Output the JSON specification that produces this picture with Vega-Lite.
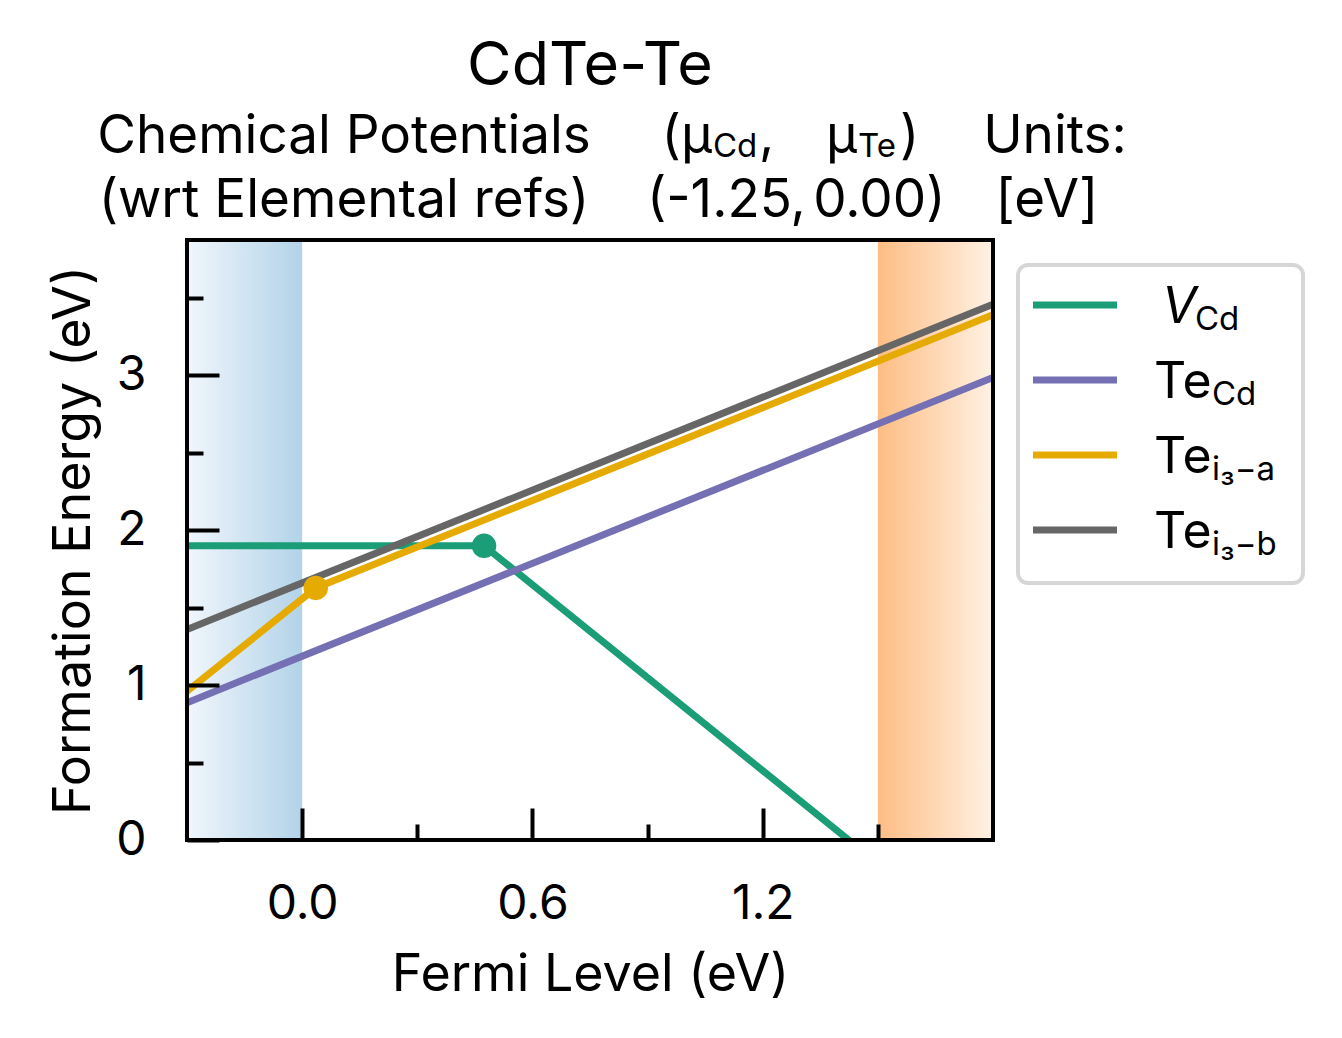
{
  "$schema": "https://vega.github.io/schema/vega-lite/v6.json",
  "width": 806,
  "height": 600,
  "autosize": {"type": "none"},
  "padding": {"left": 187, "top": 240, "right": 349, "bottom": 198},
  "background": "white",
  "config": {
    "font": "Inter",
    "view": {"stroke": null},
    "text": {"font": "Inter", "color": "black"}
  },
  "datasets": {
    "lines": [
      {"defect": "V_Cd", "fermi": -0.3, "energy": 1.9},
      {"defect": "V_Cd", "fermi": 0.474, "energy": 1.9},
      {"defect": "V_Cd", "fermi": 1.8, "energy": -0.752},
      {"defect": "Te_Cd", "fermi": -0.3, "energy": 0.887},
      {"defect": "Te_Cd", "fermi": 1.8, "energy": 2.987},
      {"defect": "Te_i3-a", "fermi": -0.3, "energy": 0.96},
      {"defect": "Te_i3-a", "fermi": 0.0355, "energy": 1.628},
      {"defect": "Te_i3-a", "fermi": 1.8, "energy": 3.392},
      {"defect": "Te_i3-b", "fermi": -0.3, "energy": 1.36},
      {"defect": "Te_i3-b", "fermi": 1.8, "energy": 3.46}
    ],
    "levels": [
      {"defect": "V_Cd", "fermi": 0.474, "energy": 1.9},
      {"defect": "Te_i3-a", "fermi": 0.0355, "energy": 1.628}
    ]
  },
  "data": {"values": [{}]},
  "layer": [
    {
      "mark": {"type": "rect", "fill": {"gradient": "linear", "x1": 0, "x2": 1, "y1": 0, "y2": 0, "stops": [{"offset": 0, "color": "#f1f6fc"}, {"offset": 1, "color": "#b2d3e8"}]}},
      "encoding": {
        "x": {"datum": -0.3, "type": "quantitative"},
        "x2": {"datum": 0},
        "y": {"datum": 0, "type": "quantitative"},
        "y2": {"datum": 3.875}
      }
    },
    {
      "mark": {"type": "rect", "fill": {"gradient": "linear", "x1": 0, "x2": 1, "y1": 0, "y2": 0, "stops": [{"offset": 0, "color": "#fdbd84"}, {"offset": 1, "color": "#fff2e4"}]}},
      "encoding": {
        "x": {"datum": 1.5, "type": "quantitative"},
        "x2": {"datum": 1.8},
        "y": {"datum": 0, "type": "quantitative"},
        "y2": {"datum": 3.875}
      }
    },
    {
      "data": {"name": "lines"},
      "mark": {"type": "line", "strokeWidth": 7, "clip": true},
      "encoding": {
        "x": {
          "field": "fermi", "type": "quantitative",
          "scale": {"domain": [-0.3, 1.8], "nice": false, "zero": false},
          "axis": {
            "title": "Fermi Level (eV)",
            "values": [0, 0.3, 0.6, 0.9, 1.2, 1.5],
            "labelExpr": "round(datum.value * 10) % 6 == 0 ? format(datum.value, '.1f') : ''",
            "tickSize": {"condition": {"test": "round(datum.value * 10) % 6 == 0", "value": -32}, "value": -16},
            "tickWidth": 4, "tickColor": "black",
            "domain": false, "grid": false,
            "labelFontSize": 48, "labelColor": "black", "labelPadding": 72,
            "labelOverlap": false, "labelFlush": false,
            "titleFontSize": 52, "titleFontWeight": "normal", "titleColor": "black",
            "titleY": 150, "titleBaseline": "alphabetic",
            "zindex": 1
          }
        },
        "y": {
          "field": "energy", "type": "quantitative",
          "scale": {"domain": [0, 3.875], "nice": false, "zero": false},
          "axis": {
            "title": "Formation Energy (eV)",
            "values": [0, 0.5, 1, 1.5, 2, 2.5, 3, 3.5],
            "labelExpr": "datum.value == round(datum.value) ? format(datum.value, 'd') : ''",
            "tickSize": {"condition": {"test": "datum.value == round(datum.value)", "value": -32}, "value": -16},
            "tickWidth": 4, "tickColor": "black",
            "domain": false, "grid": false,
            "labelFontSize": 48, "labelColor": "black", "labelPadding": 73,
            "labelOverlap": false, "labelFlush": false,
            "titleFontSize": 52, "titleFontWeight": "normal", "titleColor": "black",
            "titleX": -98, "titleY": 300, "titleBaseline": "alphabetic",
            "zindex": 1
          }
        },
        "color": {
          "field": "defect", "type": "nominal",
          "scale": {"domain": ["V_Cd", "Te_Cd", "Te_i3-a", "Te_i3-b"], "range": ["#1b9e77", "#7570b3", "#e6ab02", "#666666"]},
          "legend": null
        }
      }
    },
    {
      "data": {"name": "levels"},
      "mark": {"type": "circle", "size": 600, "opacity": 1},
      "encoding": {
        "x": {"field": "fermi", "type": "quantitative"},
        "y": {"field": "energy", "type": "quantitative"},
        "color": {"field": "defect", "type": "nominal"}
      }
    },
    {
      "mark": {"type": "rect", "filled": false, "stroke": "black", "strokeWidth": 4},
      "encoding": {
        "x": {"datum": -0.3, "type": "quantitative"},
        "x2": {"datum": 1.8},
        "y": {"datum": 0, "type": "quantitative"},
        "y2": {"datum": 3.875}
      }
    },
    {
      "mark": {"type": "rect", "fill": "white", "stroke": "#d6d6d6", "strokeWidth": 4, "cornerRadius": 10},
      "encoding": {
        "x": {"datum": 1.8651, "type": "quantitative"},
        "x2": {"datum": 2.6077},
        "y": {"datum": 3.7135, "type": "quantitative"},
        "y2": {"datum": 1.6598}
      }
    },
    {"mark": {"type": "rule", "strokeWidth": 7, "color": "#1b9e77"}, "encoding": {"x": {"datum": 1.9042, "type": "quantitative"}, "x2": {"datum": 2.1231}, "y": {"datum": 3.4552, "type": "quantitative"}}},
    {"mark": {"type": "rule", "strokeWidth": 7, "color": "#7570b3"}, "encoding": {"x": {"datum": 1.9042, "type": "quantitative"}, "x2": {"datum": 2.1231}, "y": {"datum": 2.9708, "type": "quantitative"}}},
    {"mark": {"type": "rule", "strokeWidth": 7, "color": "#e6ab02"}, "encoding": {"x": {"datum": 1.9042, "type": "quantitative"}, "x2": {"datum": 2.1231}, "y": {"datum": 2.4864, "type": "quantitative"}}},
    {"mark": {"type": "rule", "strokeWidth": 7, "color": "#666666"}, "encoding": {"x": {"datum": 1.9042, "type": "quantitative"}, "x2": {"datum": 2.1231}, "y": {"datum": 2.0021, "type": "quantitative"}}},
    {"mark": {"type": "text", "text": "V", "fontSize": 50, "fontStyle": "italic", "align": "left", "baseline": "alphabetic"}, "encoding": {"x": {"datum": 2.2403, "type": "quantitative"}, "y": {"datum": 3.3389, "type": "quantitative"}}},
    {"mark": {"type": "text", "text": "Cd", "fontSize": 33, "align": "left", "baseline": "alphabetic"}, "encoding": {"x": {"datum": 2.3263, "type": "quantitative"}, "y": {"datum": 3.2937, "type": "quantitative"}}},
    {"mark": {"type": "text", "text": "Te", "fontSize": 50, "align": "left", "baseline": "alphabetic"}, "encoding": {"x": {"datum": 2.2195, "type": "quantitative"}, "y": {"datum": 2.8546, "type": "quantitative"}}},
    {"mark": {"type": "text", "text": "Cd", "fontSize": 33, "align": "left", "baseline": "alphabetic"}, "encoding": {"x": {"datum": 2.3706, "type": "quantitative"}, "y": {"datum": 2.8093, "type": "quantitative"}}},
    {"mark": {"type": "text", "text": "Te", "fontSize": 50, "align": "left", "baseline": "alphabetic"}, "encoding": {"x": {"datum": 2.2195, "type": "quantitative"}, "y": {"datum": 2.3702, "type": "quantitative"}}},
    {"mark": {"type": "text", "text": "i₃−a", "fontSize": 33, "align": "left", "baseline": "alphabetic"}, "encoding": {"x": {"datum": 2.3706, "type": "quantitative"}, "y": {"datum": 2.325, "type": "quantitative"}}},
    {"mark": {"type": "text", "text": "Te", "fontSize": 50, "align": "left", "baseline": "alphabetic"}, "encoding": {"x": {"datum": 2.2195, "type": "quantitative"}, "y": {"datum": 1.8858, "type": "quantitative"}}},
    {"mark": {"type": "text", "text": "i₃−b", "fontSize": 33, "align": "left", "baseline": "alphabetic"}, "encoding": {"x": {"datum": 2.3706, "type": "quantitative"}, "y": {"datum": 1.8406, "type": "quantitative"}}},
    {"mark": {"type": "text", "text": "CdTe-Te", "fontSize": 61, "align": "center", "baseline": "alphabetic"}, "encoding": {"x": {"datum": 0.75, "type": "quantitative"}, "y": {"datum": 4.876, "type": "quantitative"}}},
    {"mark": {"type": "text", "text": "Chemical Potentials", "fontSize": 53, "align": "center", "baseline": "alphabetic"}, "encoding": {"x": {"datum": 0.1091, "type": "quantitative"}, "y": {"datum": 4.4368, "type": "quantitative"}}},
    {"mark": {"type": "text", "text": "(wrt Elemental refs)", "fontSize": 53, "align": "center", "baseline": "alphabetic"}, "encoding": {"x": {"datum": 0.1091, "type": "quantitative"}, "y": {"datum": 4.0235, "type": "quantitative"}}},
    {"mark": {"type": "text", "text": "(μ", "fontSize": 53, "align": "right", "baseline": "alphabetic"}, "encoding": {"x": {"datum": 1.0679, "type": "quantitative"}, "y": {"datum": 4.4368, "type": "quantitative"}}},
    {"mark": {"type": "text", "text": "Cd", "fontSize": 33, "align": "left", "baseline": "alphabetic"}, "encoding": {"x": {"datum": 1.0705, "type": "quantitative"}, "y": {"datum": 4.411, "type": "quantitative"}}},
    {"mark": {"type": "text", "text": ",", "fontSize": 53, "align": "left", "baseline": "alphabetic"}, "encoding": {"x": {"datum": 1.1903, "type": "quantitative"}, "y": {"datum": 4.4368, "type": "quantitative"}}},
    {"mark": {"type": "text", "text": "μ", "fontSize": 53, "align": "right", "baseline": "alphabetic"}, "encoding": {"x": {"datum": 1.4456, "type": "quantitative"}, "y": {"datum": 4.4368, "type": "quantitative"}}},
    {"mark": {"type": "text", "text": "Te", "fontSize": 33, "align": "left", "baseline": "alphabetic"}, "encoding": {"x": {"datum": 1.4482, "type": "quantitative"}, "y": {"datum": 4.411, "type": "quantitative"}}},
    {"mark": {"type": "text", "text": ")", "fontSize": 53, "align": "left", "baseline": "alphabetic"}, "encoding": {"x": {"datum": 1.5577, "type": "quantitative"}, "y": {"datum": 4.4368, "type": "quantitative"}}},
    {"mark": {"type": "text", "text": "(-1.25,", "fontSize": 53, "align": "center", "baseline": "alphabetic"}, "encoding": {"x": {"datum": 1.1053, "type": "quantitative"}, "y": {"datum": 4.0235, "type": "quantitative"}}},
    {"mark": {"type": "text", "text": "0.00)", "fontSize": 53, "align": "center", "baseline": "alphabetic"}, "encoding": {"x": {"datum": 1.504, "type": "quantitative"}, "y": {"datum": 4.0235, "type": "quantitative"}}},
    {"mark": {"type": "text", "text": "Units:", "fontSize": 53, "align": "center", "baseline": "alphabetic"}, "encoding": {"x": {"datum": 1.9615, "type": "quantitative"}, "y": {"datum": 4.4368, "type": "quantitative"}}},
    {"mark": {"type": "text", "text": "[eV]", "fontSize": 53, "align": "center", "baseline": "alphabetic"}, "encoding": {"x": {"datum": 1.9407, "type": "quantitative"}, "y": {"datum": 4.0235, "type": "quantitative"}}}
  ]
}
